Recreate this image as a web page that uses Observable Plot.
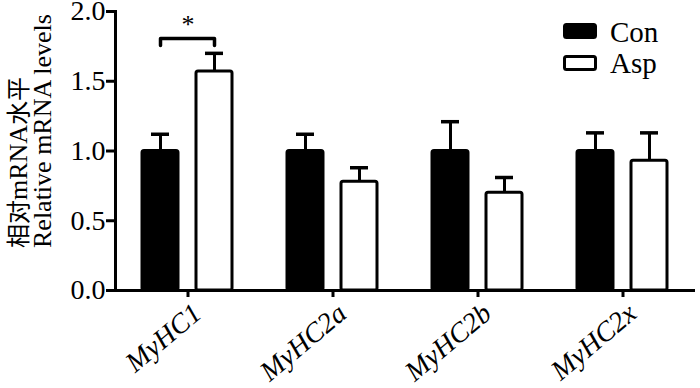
<!DOCTYPE html>
<html>
<head>
<meta charset="utf-8">
<script src="https://cdn.jsdelivr.net/npm/d3@7"></script>
<script src="https://cdn.jsdelivr.net/npm/@observablehq/plot@0.6"></script>
<style>
  html, body { margin: 0; padding: 0; background: white; }
  #wrap { position: relative; width: 700px; height: 388px; overflow: hidden; }
  #wrap > svg.overlay { position: absolute; left: 0; top: 0; pointer-events: none; }
</style>
</head>
<body>
<div id="wrap"></div>
<script>
// ---- data ----
const genes = ["MyHC1", "MyHC2a", "MyHC2b", "MyHC2x"];
const groups = ["Con", "Asp"];
const conMean = [1.00, 1.00, 1.00, 1.00];
const conErr  = [0.12, 0.12, 0.21, 0.13];
const aspMean = [1.57, 0.78, 0.70, 0.93];
const aspErr  = [0.13, 0.10, 0.11, 0.20];
const yTicks = [0, 0.5, 1.0, 1.5, 2.0];
const sigGene = ["MyHC1"];
const sigLevel = [1.806];
const sigLabel = ["*"];
const labelAngle = -40;

const rows = [];
genes.forEach((g, i) => {
  rows.push({gene: g, group: "Con", mean: conMean[i], err: conErr[i]});
  rows.push({gene: g, group: "Asp", mean: aspMean[i], err: aspErr[i]});
});

const bracket = [];
sigGene.forEach((g, i) => {
  const y = sigLevel[i];
  bracket.push({gene: g, group: "Con", y: y - 0.05, id: i});
  bracket.push({gene: g, group: "Con", y: y, id: i});
  bracket.push({gene: g, group: "Asp", y: y, id: i});
  bracket.push({gene: g, group: "Asp", y: y - 0.05, id: i});
});
const stars = sigGene.map((g, i) => ({gene: g, y: sigLevel[i] + 0.1, label: sigLabel[i]}));

const serif = "'Liberation Serif', 'Times New Roman', serif";

const chart = Plot.plot({
  width: 700,
  height: 388,
  marginLeft: 114,
  marginRight: 5,
  marginTop: 11,
  marginBottom: 98,
  style: {fontFamily: serif, fontSize: "28px", color: "black", background: "white", overflow: "visible"},
  fx: {domain: genes, padding: 0, label: null, axis: null},
  x: {domain: groups, paddingInner: 0.333, paddingOuter: 0.509, axis: null},
  y: {domain: [0, 2], label: null},
  color: {domain: groups, range: ["black", "white"]},
  marks: [
    Plot.barY(rows, {fx: "gene", x: "group", y: "mean", fill: "group", stroke: "black", strokeWidth: 3, rx: 2}),
    Plot.ruleX(rows, {fx: "gene", x: "group", y1: "mean", y2: d => d.mean + d.err, stroke: "black", strokeWidth: 3}),
    Plot.tickY(rows, {fx: "gene", x: "group", y: d => d.mean + d.err, stroke: "black", strokeWidth: 3.5, insetLeft: 9, insetRight: 9}),
    Plot.line(bracket, {fx: "gene", x: "group", y: "y", z: "id", stroke: "black", strokeWidth: 3.5}),
    Plot.text(stars, {fx: "gene", y: "y", text: "label", fontSize: 26, fill: "black"}),
    Plot.ruleY([0], {stroke: "black", strokeWidth: 3}),
    Plot.frame({anchor: "left", facetAnchor: "left", stroke: "black", strokeWidth: 3}),
    Plot.axisY({ticks: yTicks, tickFormat: d => d.toFixed(1), tickSize: 9, tickPadding: 1, strokeWidth: 3, label: null, fontSize: 28}),
    Plot.axisFx({anchor: "bottom", tickSize: 7, strokeWidth: 3, tickFormat: () => "", label: null})
  ]
});

const wrap = document.getElementById("wrap");
wrap.appendChild(chart);

// positions of the category labels come from Plot's own fx and y scales
const fxScale = chart.scale("fx");
const yScale = chart.scale("y");
const baseY = yScale.apply(0);
const labelSvg = genes.map(g => {
  const cx = fxScale.apply(g) + fxScale.bandwidth / 2;
  return `<text transform="translate(${cx + 3},${baseY + 11}) rotate(${labelAngle})" text-anchor="end" dy="0.71em" font-family="Liberation Serif" font-style="italic" font-size="28" fill="black">${g}</text>`;
}).join("");

// overlay: rotated category labels, y-axis title and legend
const ns = "http://www.w3.org/2000/svg";
const ov = document.createElementNS(ns, "svg");
ov.setAttribute("class", "overlay");
ov.setAttribute("width", 700);
ov.setAttribute("height", 388);
ov.innerHTML = `
  ${labelSvg}
  <text transform="translate(27,248) rotate(-90)" font-family="Liberation Serif" font-size="26" fill="black"><tspan font-family="Noto Sans CJK SC" font-size="24">相对</tspan>mRNA<tspan font-family="Noto Sans CJK SC" font-size="24">水平</tspan></text>
  <text transform="translate(51,248) rotate(-90)" font-family="Liberation Serif" font-size="26" fill="black">Relative mRNA levels</text>
  <rect x="564.5" y="24.5" width="31" height="13" rx="2" fill="black" stroke="black" stroke-width="3"/>
  <rect x="564.5" y="56.5" width="31" height="13" rx="2" fill="white" stroke="black" stroke-width="3"/>
  <text x="610" y="42" font-family="Liberation Serif" font-size="29" fill="black">${groups[0]}</text>
  <text x="610" y="73" font-family="Liberation Serif" font-size="29" fill="black">${groups[1]}</text>
`;
wrap.appendChild(ov);
</script>
</body>
</html>
